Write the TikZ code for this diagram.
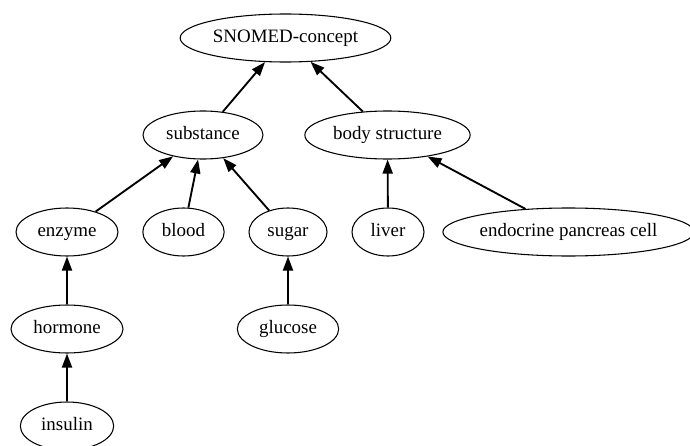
\documentclass[tikz,border=0pt]{standalone}
\usepackage{fontspec}
\setmainfont{Liberation Serif}
\usetikzlibrary{shapes.geometric,arrows.meta}
\begin{document}
\begin{tikzpicture}[x=0.75pt, y=-0.75pt,
  concept/.style={ellipse, draw, line width=0.8pt, inner sep=0pt, minimum height=36pt,
    text height=9.5pt, text depth=3pt, font=\fontsize{14.2}{16}\selectfont},
  isa/.style={line width=1.4pt, -{Triangle[length=10.5pt, width=7.5pt]}}]
\useasboundingbox (0,0) rectangle (690,446);
\node[concept, minimum width=158pt] (P_0_0) at (285.5,38) {SNOMED-concept};
\node[concept, minimum width=90pt] (P_1_0) at (203,135) {substance};
\draw[isa] (P_1_0) -- (P_0_0);
\node[concept, minimum width=124pt] (P_1_1) at (387.5,135) {body structure};
\draw[isa] (P_1_1) -- (P_0_0);
\node[concept, minimum width=76.5pt] (P_2_0) at (67,232) {enzyme};
\draw[isa] (P_2_0) -- (P_1_0);
\node[concept, minimum width=61pt] (P_2_1) at (183.5,232) {blood};
\draw[isa] (P_2_1) -- (P_1_0);
\node[concept, minimum width=58.5pt] (P_2_2) at (288,232) {sugar};
\draw[isa] (P_2_2) -- (P_1_0);
\node[concept, minimum width=54pt] (P_2_3) at (388,232) {liver};
\draw[isa] (P_2_3) -- (P_1_1);
\node[concept, minimum width=182pt] (P_2_4) at (568.5,232) {endocrine pancreas cell};
\draw[isa] (P_2_4) -- (P_1_1);
\node[concept, minimum width=84pt] (P_3_0) at (67,329) {hormone};
\draw[isa] (P_3_0) -- (P_2_0);
\node[concept, minimum width=76pt] (P_3_1) at (288,329) {glucose};
\draw[isa] (P_3_1) -- (P_2_2);
\node[concept, minimum width=70pt] (P_4_0) at (67,426) {insulin};
\draw[isa] (P_4_0) -- (P_3_0);
\end{tikzpicture}
\end{document}
